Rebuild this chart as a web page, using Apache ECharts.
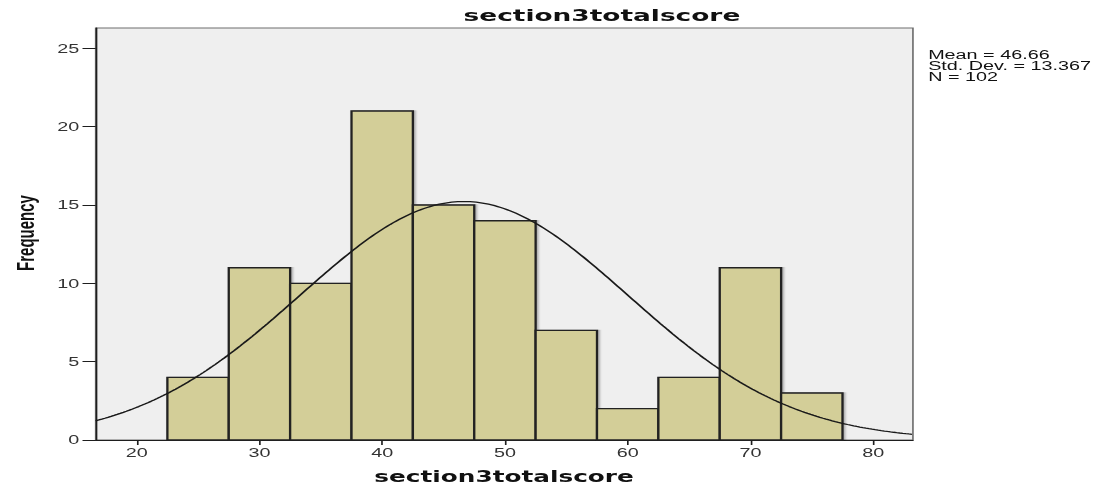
<!DOCTYPE html>
<html>
<head>
<meta charset="utf-8">
<script src="https://cdn.jsdelivr.net/npm/echarts@6/dist/echarts.min.js"></script>
<style>
  html, body { margin: 0; padding: 0; background: #ffffff; overflow: hidden; width: 1111px; height: 489px; }
  /* the chart is laid out narrow and widened horizontally, giving the wide SPSS-style lettering */
  #chart { width: 673.3px; height: 489px; transform: scaleX(1.65); transform-origin: 0 0; }
</style>
</head>
<body>
<div id="chart"></div>
<script>
// histogram bins (lower edges) and their counts
const binStarts = [22.5, 27.5, 32.5, 37.5, 42.5, 47.5, 52.5, 57.5, 62.5, 67.5, 72.5];
const binWidth = 5;
const frequencies = [4, 11, 10, 21, 15, 14, 7, 2, 4, 11, 3];

// summary statistics shown beside the plot
const statMean = 46.66;
const statStdDev = 13.367;
const statN = 102;

// axis tick values
const xTickValues = [20, 30, 40, 50, 60, 70, 80];
const yTickValues = [0, 5, 10, 15, 20, 25];
const xRange = [16.66, 83.24];
const yRange = [0, 26.3];

// normal curve fitted with the mean and std. dev. above, scaled to counts per bin
const curvePoints = [];
for (let x = xRange[0]; x <= xRange[1] + 1e-9; x += 0.25) {
  const z = (x - statMean) / statStdDev;
  const y = statN * binWidth / (statStdDev * Math.sqrt(2 * Math.PI)) * Math.exp(-0.5 * z * z);
  curvePoints.push([x, y]);
}

const barData = binStarts.map((s, i) => [s, frequencies[i]]);

const chart = echarts.init(document.getElementById('chart'), null, { renderer: 'svg' });

const axisFont = 'Liberation Sans, Arial, sans-serif';

chart.setOption({
  animation: false,
  backgroundColor: '#ffffff',
  grid: {
    left: 58, top: 28, width: 495.3, height: 412,
    show: true, backgroundColor: '#efefef', borderColor: '#6e6e6e', borderWidth: 1
  },
  xAxis: {
    type: 'value', min: xRange[0], max: xRange[1],
    axisLine: { show: true, onZero: false, lineStyle: { color: '#1e1e1e', width: 1 } },
    axisTick: { show: true, length: 5, customValues: xTickValues, lineStyle: { color: '#1e1e1e' } },
    axisLabel: { customValues: xTickValues, color: '#333', fontFamily: axisFont, fontSize: 12, margin: 7 },
    splitLine: { show: false }
  },
  yAxis: {
    type: 'value', min: yRange[0], max: yRange[1],
    axisLine: { show: true, lineStyle: { color: '#1e1e1e', width: 1 } },
    axisTick: { show: true, length: 8, customValues: yTickValues, lineStyle: { color: '#1e1e1e' } },
    axisLabel: { customValues: yTickValues, color: '#333', fontFamily: axisFont, fontSize: 12, margin: 10 },
    splitLine: { show: false }
  },
  series: [
    {
      type: 'custom',
      data: barData,
      renderItem: function (params, api) {
        const x0 = api.value(0);
        const count = api.value(1);
        const topLeft = api.coord([x0, count]);
        const bottomRight = api.coord([x0 + binWidth, 0]);
        return {
          type: 'rect',
          shape: {
            x: topLeft[0], y: topLeft[1],
            width: bottomRight[0] - topLeft[0], height: bottomRight[1] - topLeft[1]
          },
          style: { fill: '#d3ce98', stroke: '#222222', lineWidth: 1.4,
            shadowColor: 'rgba(0,0,0,0.3)', shadowOffsetX: 1, shadowOffsetY: 0, shadowBlur: 1 }
        };
      },
      z: 2
    },
    {
      type: 'line',
      data: curvePoints,
      showSymbol: false,
      symbol: 'none',
      smooth: false,
      lineStyle: { color: '#1a1a1a', width: 1.3 },
      z: 3
    }
  ],
  graphic: [
    {
      type: 'text', x: 364.8, y: 16,
      style: { text: 'section3totalscore', align: 'center', verticalAlign: 'middle',
        font: 'bold 16px "DejaVu Sans"', fill: '#111' }
    },
    {
      type: 'text', x: 305.5, y: 477,
      style: { text: 'section3totalscore', align: 'center', verticalAlign: 'middle',
        font: 'bold 15px "DejaVu Sans"', fill: '#111' }
    },
    {
      type: 'text', x: 15, y: 233, rotation: Math.PI / 2,
      style: { text: 'Frequency', align: 'center', verticalAlign: 'middle',
        font: 'bold 15px "Liberation Sans"', fill: '#111' }
    },
    {
      type: 'text', x: 562.5, y: 49,
      style: {
        text: 'Mean = ' + statMean.toFixed(2) + '\nStd. Dev. = ' + statStdDev.toFixed(3) + '\nN = ' + statN,
        align: 'left', verticalAlign: 'top', lineHeight: 11,
        font: '12px "Liberation Sans"', fill: '#111'
      }
    }
  ]
});
</script>
</body>
</html>
